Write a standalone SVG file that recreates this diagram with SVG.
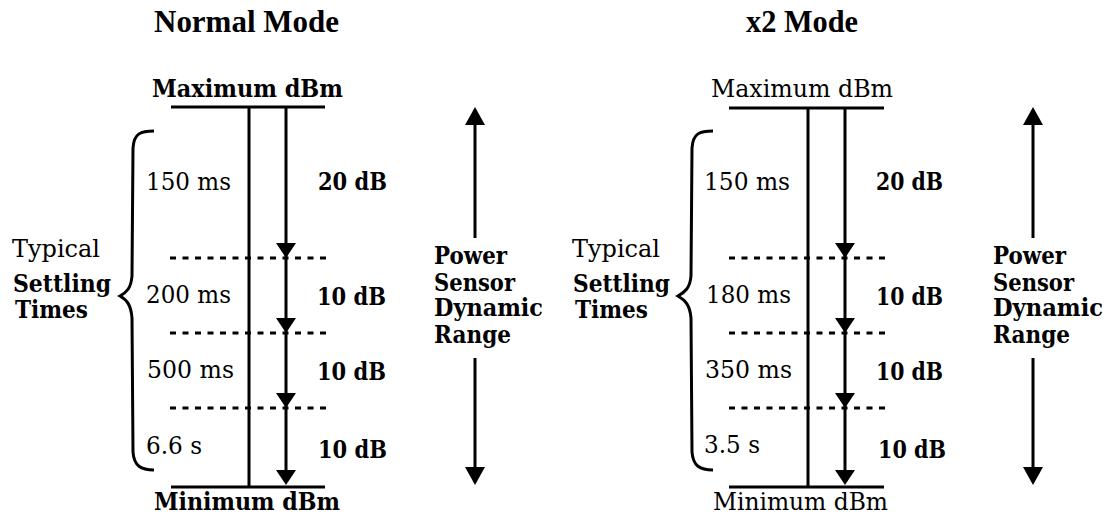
<svg xmlns="http://www.w3.org/2000/svg" width="1108" height="514" viewBox="0 0 1108 514">
<style>
text{font-family:"DejaVu Serif","Liberation Serif",serif;font-size:24.5px;fill:#000}
.b{font-weight:bold}
.title{font-family:"Liberation Serif","Times New Roman",serif;font-size:31px;font-weight:bold}
.ln{stroke:#000;stroke-width:3;fill:none}
.dash{stroke:#000;stroke-width:3;stroke-dasharray:6 6.5;fill:none}
.ah{fill:#000;stroke:none}
</style>
<rect width="1108" height="514" fill="#fff"/>

<!-- ===== Normal Mode panel ===== -->
<g id="title-normal"><text class="title" x="154" y="32" textLength="185" lengthAdjust="spacingAndGlyphs">Normal Mode</text></g>
<g id="n-max"><text class="b" x="152" y="97" textLength="191" lengthAdjust="spacingAndGlyphs">Maximum dBm</text></g>
<g id="n-min"><text class="b" x="154" y="510" textLength="186" lengthAdjust="spacingAndGlyphs">Minimum dBm</text></g>
<g id="n-settling">
<text x="12" y="257" textLength="88" lengthAdjust="spacingAndGlyphs">Typical</text>
<text class="b" x="13" y="292" textLength="98" lengthAdjust="spacingAndGlyphs">Settling</text>
<text class="b" x="15" y="318" textLength="73" lengthAdjust="spacingAndGlyphs">Times</text>
</g>
<g id="n-times">
<text x="146" y="190" textLength="85" lengthAdjust="spacingAndGlyphs">150 ms</text>
<text x="146" y="303" textLength="85" lengthAdjust="spacingAndGlyphs">200 ms</text>
<text x="147" y="378" textLength="87" lengthAdjust="spacingAndGlyphs">500 ms</text>
<text x="146" y="454" textLength="56" lengthAdjust="spacingAndGlyphs">6.6 s</text>
</g>
<g id="n-db">
<text class="b" x="318" y="190" textLength="69" lengthAdjust="spacingAndGlyphs">20 dB</text>
<text class="b" x="317" y="305" textLength="69" lengthAdjust="spacingAndGlyphs">10 dB</text>
<text class="b" x="317" y="380" textLength="69" lengthAdjust="spacingAndGlyphs">10 dB</text>
<text class="b" x="318" y="458" textLength="69" lengthAdjust="spacingAndGlyphs">10 dB</text>
</g>
<g id="n-range">
<text class="b" x="434" y="264" textLength="73" lengthAdjust="spacingAndGlyphs">Power</text>
<text class="b" x="434" y="291" textLength="81" lengthAdjust="spacingAndGlyphs">Sensor</text>
<text class="b" x="434" y="316" textLength="109" lengthAdjust="spacingAndGlyphs">Dynamic</text>
<text class="b" x="434" y="343" textLength="77" lengthAdjust="spacingAndGlyphs">Range</text>
</g>

<!-- ===== x2 Mode panel ===== -->
<g id="title-x2"><text class="title" x="746" y="32" textLength="112" lengthAdjust="spacingAndGlyphs">x2 Mode</text></g>
<g id="x-max"><text x="711" y="97" textLength="182" lengthAdjust="spacingAndGlyphs">Maximum dBm</text></g>
<g id="x-min"><text x="713" y="510" textLength="175" lengthAdjust="spacingAndGlyphs">Minimum dBm</text></g>
<g id="x-settling">
<text x="572" y="257" textLength="88" lengthAdjust="spacingAndGlyphs">Typical</text>
<text class="b" x="573" y="292" textLength="97" lengthAdjust="spacingAndGlyphs">Settling</text>
<text class="b" x="575" y="318" textLength="73" lengthAdjust="spacingAndGlyphs">Times</text>
</g>
<g id="x-times">
<text x="704" y="190" textLength="86" lengthAdjust="spacingAndGlyphs">150 ms</text>
<text x="706" y="303" textLength="85" lengthAdjust="spacingAndGlyphs">180 ms</text>
<text x="705" y="378" textLength="87" lengthAdjust="spacingAndGlyphs">350 ms</text>
<text x="704" y="453" textLength="56" lengthAdjust="spacingAndGlyphs">3.5 s</text>
</g>
<g id="x-db">
<text class="b" x="876" y="190" textLength="67" lengthAdjust="spacingAndGlyphs">20 dB</text>
<text class="b" x="876" y="305" textLength="67" lengthAdjust="spacingAndGlyphs">10 dB</text>
<text class="b" x="876" y="380" textLength="67" lengthAdjust="spacingAndGlyphs">10 dB</text>
<text class="b" x="878" y="458" textLength="68" lengthAdjust="spacingAndGlyphs">10 dB</text>
</g>
<g id="x-range">
<text class="b" x="993" y="264" textLength="73" lengthAdjust="spacingAndGlyphs">Power</text>
<text class="b" x="993" y="291" textLength="81" lengthAdjust="spacingAndGlyphs">Sensor</text>
<text class="b" x="993" y="316" textLength="110" lengthAdjust="spacingAndGlyphs">Dynamic</text>
<text class="b" x="993" y="343" textLength="77" lengthAdjust="spacingAndGlyphs">Range</text>
</g>

<!-- ===== connectors ===== -->
<g id="connectors">
<!-- Normal mode -->
<line class="ln" x1="171" y1="107" x2="325" y2="107"/>
<line class="ln" x1="171" y1="487" x2="325" y2="487"/>
<line class="ln" x1="249" y1="107" x2="249" y2="487"/>
<line class="ln" x1="286" y1="107" x2="286" y2="478"/>
<line class="dash" x1="170" y1="258" x2="326" y2="258"/>
<line class="dash" x1="170" y1="333" x2="326" y2="333"/>
<line class="dash" x1="170" y1="408" x2="326" y2="408"/>
<polygon class="ah" points="276,243 296,243 286,258"/>
<polygon class="ah" points="276,318 296,318 286,333"/>
<polygon class="ah" points="276,393 296,393 286,408"/>
<polygon class="ah" points="276,470 296,470 286,485"/>
<path class="ln" d="M154,131 C141,131 134,133 133,148 L132,276 C131,288 127,292 120,296 C127,300 131,305 132,318 L133,452 C134,466 141,470 154,470"/>
<line class="ln" x1="475" y1="122" x2="475" y2="238"/>
<polygon class="ah" points="465,125 485,125 475,107"/>
<line class="ln" x1="475" y1="358" x2="475" y2="470"/>
<polygon class="ah" points="465,467 485,467 475,485"/>

<!-- x2 mode -->
<line class="ln" x1="729" y1="108" x2="884" y2="108"/>
<line class="ln" x1="729" y1="487" x2="884" y2="487"/>
<line class="ln" x1="808" y1="108" x2="808" y2="487"/>
<line class="ln" x1="845" y1="108" x2="845" y2="478"/>
<line class="dash" x1="729" y1="258" x2="885" y2="258"/>
<line class="dash" x1="729" y1="333" x2="885" y2="333"/>
<line class="dash" x1="729" y1="408" x2="885" y2="408"/>
<polygon class="ah" points="835,243 855,243 845,258"/>
<polygon class="ah" points="835,318 855,318 845,333"/>
<polygon class="ah" points="835,393 855,393 845,408"/>
<polygon class="ah" points="835,470 855,470 845,485"/>
<path class="ln" d="M713,131 C700,131 693,133 692,148 L691,276 C690,288 685,292 678,296 C685,300 690,305 691,318 L692,452 C693,466 700,470 713,470"/>
<line class="ln" x1="1033" y1="122" x2="1033" y2="238"/>
<polygon class="ah" points="1023,125 1043,125 1033,107"/>
<line class="ln" x1="1033" y1="358" x2="1033" y2="470"/>
<polygon class="ah" points="1023,467 1043,467 1033,485"/>
</g>
</svg>
